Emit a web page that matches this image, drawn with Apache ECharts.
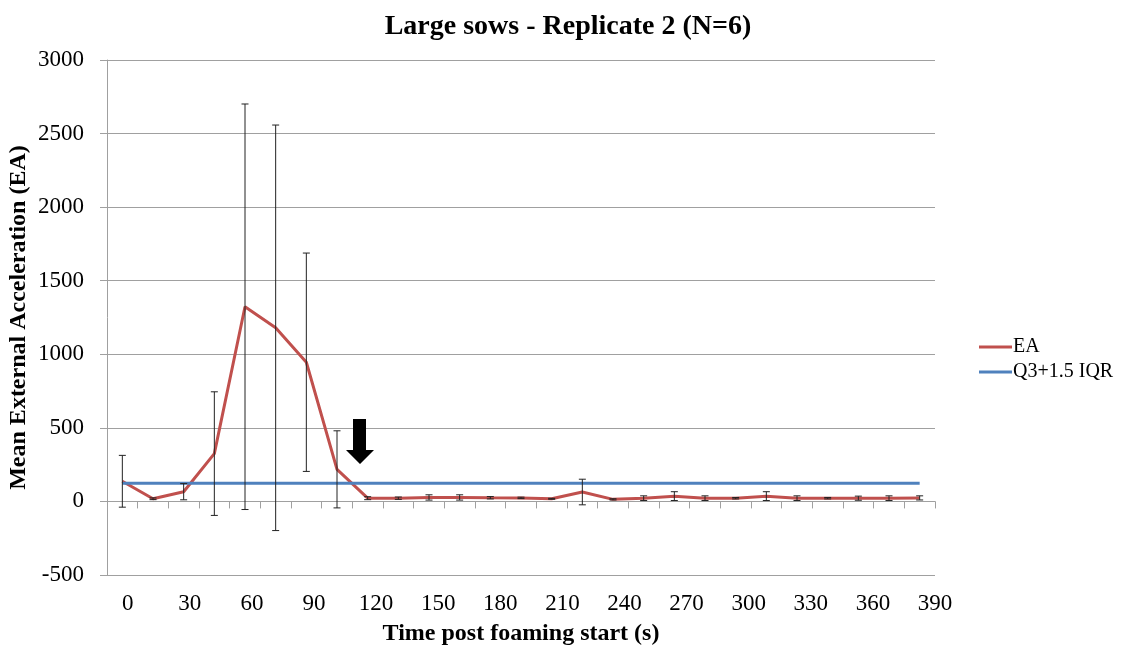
<!DOCTYPE html>
<html>
<head>
    <meta charset="utf-8">
    <title>Large sows - Replicate 2</title>
    <script src="https://cdn.jsdelivr.net/npm/echarts@6/dist/echarts.min.js"></script>
    <style>
        html, body { margin: 0; padding: 0; background: #fff; }
        #main { width: 1136px; height: 651px; }
    </style>
</head>
<body>
    <div id="main"></div>
    <script type="text/javascript">
        // one point every sample, 27 samples
        var samples = ['1','2','3','4','5','6','7','8','9','10','11','12','13','14','15','16','17','18','19','20','21','22','23','24','25','26','27'];
        // mean EA and +/- error
        var ea    = [137, 18, 66, 325, 1323, 1180, 946, 218, 22, 22, 27, 27, 25, 24, 18, 64, 14, 22, 36, 22, 22, 36, 22, 22, 22, 22, 24];
        var eaErr = [176, 6, 55, 420, 1378, 1378, 742, 262, 10, 8, 18, 18, 8, 5, 3, 87, 4, 16, 30, 16, 5, 30, 16, 5, 14, 16, 14];
        // threshold line
        var threshold = [124,124,124,124,124,124,124,124,124,124,124,124,124,124,124,124,124,124,124,124,124,124,124,124,124,124,124];
        // time labels shown under the axis
        var timeTicks = [0, 30, 60, 90, 120, 150, 180, 210, 240, 270, 300, 330, 360, 390];

        var serif = '"Liberation Serif", "Times New Roman", serif';

        var myChart = echarts.init(document.getElementById('main'));

        var errData = ea.map(function (v, i) {
            return [i, v - eaErr[i], v + eaErr[i]];
        });

        option = {
            animation: false,
            backgroundColor: '#fff',
            title: {
                text: 'Large sows - Replicate 2 (N=6)',
                left: 'center',
                top: 8,
                textStyle: { fontFamily: serif, fontSize: 28, fontWeight: 'bold', color: '#000' }
            },
            legend: {
                orient: 'vertical',
                left: 974,
                top: 332,
                itemGap: 5,
                itemWidth: 33,
                itemHeight: 3,
                icon: 'rect',
                textStyle: { fontFamily: serif, fontSize: 20, color: '#000', padding: [0, 0, 0, -4] },
                data: ['EA', 'Q3+1.5 IQR']
            },
            grid: { left: 107, right: 201, top: 60, bottom: 76, outerBoundsMode: 'none', containLabel: false },
            xAxis: [
                {
                    type: 'category',
                    data: samples,
                    boundaryGap: true,
                    axisLine: { onZero: true, lineStyle: { color: '#a0a0a0', width: 1 } },
                    axisTick: { show: true, interval: 0, length: 7, lineStyle: { color: '#a0a0a0' } },
                    axisLabel: { show: false },
                    splitLine: { show: false }
                },
                {
                    // label-only axis for the time values
                    type: 'value',
                    position: 'bottom',
                    min: -10,
                    max: 390,
                    axisLine: { show: false, onZero: false },
                    axisTick: { show: false },
                    splitLine: { show: false },
                    axisLabel: {
                        customValues: timeTicks,
                        margin: 17,
                        fontFamily: serif, fontSize: 23, color: '#000'
                    },
                    name: 'Time post foaming start (s)',
                    nameLocation: 'middle',
                    nameGap: 47,
                    nameTextStyle: { fontFamily: serif, fontSize: 24, fontWeight: 'bold', color: '#000' }
                }
            ],
            yAxis: {
                type: 'value',
                min: -500,
                max: 3000,
                interval: 500,
                axisLine: { show: true, onZero: false, lineStyle: { color: '#a0a0a0' } },
                axisTick: { show: true, length: 7, lineStyle: { color: '#a0a0a0' } },
                axisLabel: {
                    margin: 23,
                    fontFamily: serif, fontSize: 23, color: '#000',
                    formatter: function (v) { return String(v); }
                },
                splitLine: { lineStyle: { color: '#a0a0a0', width: 1 } },
                name: 'Mean External Acceleration (EA)',
                nameLocation: 'middle',
                nameGap: 76,
                nameMoveOverlap: false,
                nameTextStyle: { fontFamily: serif, fontSize: 24, fontWeight: 'bold', color: '#000' }
            },
            graphic: [
                {
                    // arrow marking the end of the response
                    type: 'polygon',
                    shape: {
                        points: [[353, 419], [366, 419], [366, 450], [374, 450], [360, 464], [346, 450], [353, 450]]
                    },
                    style: { fill: '#000' },
                    z: 100
                }
            ],
            series: [
                {
                    name: 'EA',
                    type: 'line',
                    data: ea,
                    symbol: 'none',
                    lineStyle: { color: '#C0504D', width: 3 },
                    itemStyle: { color: '#C0504D' },
                    z: 3
                },
                {
                    name: 'Q3+1.5 IQR',
                    type: 'line',
                    data: threshold,
                    symbol: 'none',
                    lineStyle: { color: '#4F81BD', width: 3 },
                    itemStyle: { color: '#4F81BD' },
                    z: 4
                },
                {
                    name: 'err',
                    type: 'custom',
                    data: errData,
                    z: 5,
                    renderItem: function (params, api) {
                        var x = api.coord([api.value(0), api.value(1)])[0];
                        var lo = api.coord([api.value(0), api.value(1)])[1];
                        var hi = api.coord([api.value(0), api.value(2)])[1];
                        var w = 3.5;
                        var st = { stroke: '#222', lineWidth: 1 };
                        return {
                            type: 'group',
                            children: [
                                { type: 'line', shape: { x1: x, y1: hi, x2: x, y2: lo }, style: st },
                                { type: 'line', shape: { x1: x - w, y1: hi, x2: x + w, y2: hi }, style: st },
                                { type: 'line', shape: { x1: x - w, y1: lo, x2: x + w, y2: lo }, style: st }
                            ]
                        };
                    }
                }
            ]
        };
        myChart.setOption(option);
    </script>
</body>
</html>
